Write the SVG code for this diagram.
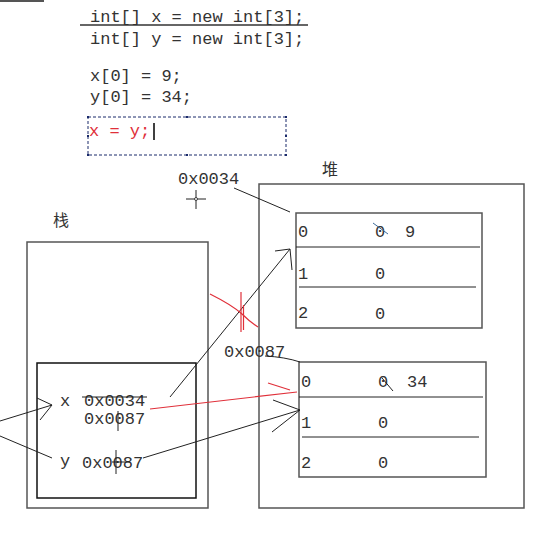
<svg xmlns="http://www.w3.org/2000/svg" width="553" height="536" viewBox="0 0 553 536">
<style>
.t{font-family:"Liberation Mono","Noto Sans CJK SC",monospace;font-size:17px;fill:#333}
.cjk{font-family:"Noto Sans CJK SC",sans-serif;font-size:16px;fill:#333}
.box{fill:none;stroke:#555;stroke-width:1.5}
.ln{fill:none;stroke:#222;stroke-width:1}
.red{fill:none;stroke:#e0303a;stroke-width:1.2}
.h{fill:#1a2a6a}
</style>
<rect width="553" height="536" fill="#fff"/>
<line x1="0" y1="1" x2="44" y2="1" stroke="#555" stroke-width="2"/>
<g id="code">
<text class="t" x="90" y="22">int[] x = new int[3];</text>
<line x1="80" y1="25" x2="308" y2="25" stroke="#333" stroke-width="1.5"/>
<text class="t" x="90" y="44">int[] y = new int[3];</text>
<text class="t" x="90" y="81">x[0] = 9;</text>
<text class="t" x="90" y="102">y[0] = 34;</text>
<rect x="88" y="117" width="198" height="38" fill="none" stroke="#1a2a6a" stroke-width="1" stroke-dasharray="3,2"/>
<rect class="h" x="87" y="116" width="2" height="2"/><rect class="h" x="186" y="116" width="2" height="2"/><rect class="h" x="285" y="116" width="2" height="2"/>
<rect class="h" x="87" y="135" width="2" height="2"/><rect class="h" x="285" y="135" width="2" height="2"/>
<rect class="h" x="87" y="154" width="2" height="2"/><rect class="h" x="186" y="154" width="2" height="2"/><rect class="h" x="285" y="154" width="2" height="2"/>
<text class="t" x="89" y="136" style="fill:#e0303a">x = y;</text>
<line x1="154" y1="123" x2="154" y2="140" stroke="#000" stroke-width="1.5"/>
</g>
<g id="heap">
<text class="cjk" x="322" y="175">堆</text>
<rect class="box" x="259" y="184" width="265" height="324"/>
<text class="t" x="178" y="184">0x0034</text>
<line class="ln" x1="186" y1="199" x2="206" y2="199"/>
<line class="ln" x1="196" y1="190" x2="196" y2="209"/>
<circle cx="196" cy="199" r="1.5" fill="#fff" stroke="#222" stroke-width="0.8"/>
<text class="t" x="224" y="357">0x0087</text>
</g>
<g id="array1">
<rect class="box" x="296" y="213" width="186" height="115"/>
<line class="ln" x1="296" y1="247" x2="480" y2="247"/>
<line class="ln" x1="299" y1="287" x2="476" y2="287"/>
<text class="t" x="298" y="237">0</text>
<text class="t" x="375" y="237">0</text>
<text class="t" x="405" y="237">9</text>
<line x1="373" y1="223" x2="388" y2="234" stroke="#3a6a9a" stroke-width="1"/>
<text class="t" x="298" y="279">1</text>
<text class="t" x="375" y="279">0</text>
<text class="t" x="298" y="318">2</text>
<text class="t" x="375" y="319">0</text>
</g>
<g id="array2">
<rect class="box" x="299" y="362" width="187" height="115"/>
<line class="ln" x1="299" y1="397" x2="483" y2="397"/>
<line class="ln" x1="302" y1="437" x2="479" y2="437"/>
<text class="t" x="301" y="387">0</text>
<text class="t" x="378" y="387">0</text>
<line class="ln" x1="382" y1="378" x2="393" y2="391"/>
<text class="t" x="407" y="387">34</text>
<text class="t" x="301" y="428">1</text>
<text class="t" x="378" y="428">0</text>
<text class="t" x="301" y="468">2</text>
<text class="t" x="378" y="468">0</text>
</g>
<g id="stack">
<text class="cjk" x="53" y="226">栈</text>
<rect class="box" x="27" y="242" width="181" height="266"/>
<rect x="37" y="363" width="159" height="135" fill="none" stroke="#111" stroke-width="1.5"/>
<text class="t" x="60" y="406">x</text>
<text class="t" x="84" y="406">0x0034</text>
<line class="ln" x1="82" y1="397" x2="147" y2="397"/>
<text class="t" x="84" y="424">0x0087</text>
<line class="ln" x1="118" y1="411" x2="118" y2="431"/>
<text class="t" x="60" y="466">y</text>
<text class="t" x="82" y="468">0x0087</text>
<line class="ln" x1="116" y1="450" x2="116" y2="474"/>
<line class="ln" x1="112" y1="462" x2="130" y2="462"/>
</g>
<g id="connectors">
<line class="ln" x1="234" y1="188" x2="290" y2="212"/>
<path class="ln" d="M265,356 Q285,357 300,362"/>
<line class="ln" x1="170" y1="397" x2="290" y2="249"/>
<polyline class="ln" points="275,251 290,249 292,270"/>
<path class="red" d="M210,294 Q232,305 242,314 Q250,322 258,327"/>
<line class="red" x1="241" y1="292" x2="241" y2="332" stroke-width="1.5"/>
<line class="red" x1="243.5" y1="305" x2="243.5" y2="330"/>
<line class="red" x1="150" y1="409" x2="297" y2="392"/>
<line class="red" x1="268" y1="383" x2="290" y2="390"/>
<line class="ln" x1="143" y1="458" x2="300" y2="410"/>
<polyline class="ln" points="273,400 300,410 272,432"/>
<line class="ln" x1="0" y1="421" x2="52" y2="405"/>
<polyline class="ln" points="37,398 52,405 40,420"/>
<line class="ln" x1="0" y1="436" x2="52" y2="458"/>
</g>
</svg>
